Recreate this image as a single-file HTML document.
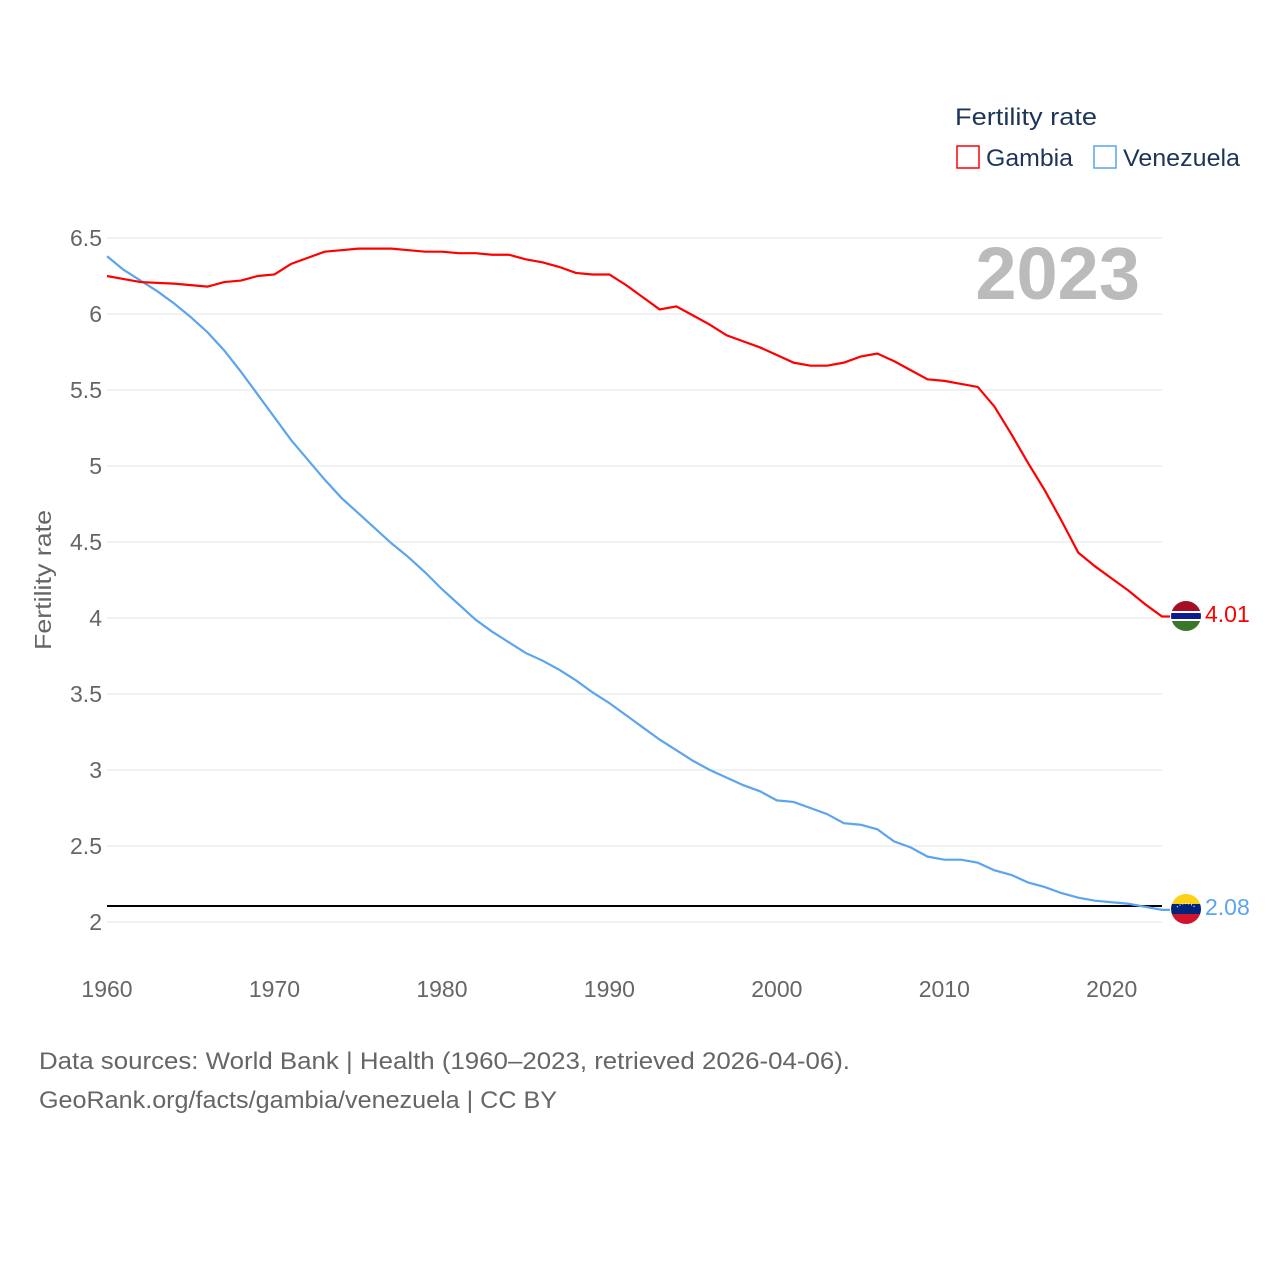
<!DOCTYPE html>
<html><head><meta charset="utf-8">
<style>
html,body{margin:0;padding:0;background:#fff;}
body{width:1280px;height:1280px;overflow:hidden;font-family:"Liberation Sans",sans-serif;}
text{font-family:"Liberation Sans",sans-serif;}
</style></head>
<body>
<svg id="chart" width="1280" height="1280" xmlns="http://www.w3.org/2000/svg">
<g id="grid"></g>
<g id="yticks"></g>
<g id="xticks"></g>
<text transform="translate(51,580) rotate(-90)" text-anchor="middle" font-size="23" fill="#666" textLength="140" lengthAdjust="spacingAndGlyphs">Fertility rate</text>
<text x="1140" y="299" text-anchor="end" font-size="74" font-weight="bold" fill="#bbb">2023</text>
<text x="955" y="125" font-size="24" fill="#1d3557" textLength="142" lengthAdjust="spacingAndGlyphs">Fertility rate</text>
<g>
<rect x="957" y="146" width="22" height="22" fill="none" stroke="#ff0000" stroke-width="1.5"/>
<text x="986" y="166" font-size="24" fill="#1d3557" textLength="87" lengthAdjust="spacingAndGlyphs">Gambia</text></g>
<g>
<rect x="1094" y="146" width="22" height="22" fill="none" stroke="#5ba4ee" stroke-width="1.5"/>
<text x="1123" y="166" font-size="24" fill="#1d3557" textLength="117" lengthAdjust="spacingAndGlyphs">Venezuela</text></g>
<line x1="107" x2="1162" y1="906" y2="906" stroke="#000" stroke-width="2"/>
<g id="series"></g>
<defs>
<clipPath id="c1"><circle cx="1186" cy="616" r="15"/></clipPath>
<clipPath id="c2"><circle cx="1186" cy="909" r="15"/></clipPath>
</defs>
<g clip-path="url(#c1)">
<rect x="1170" y="600" width="32" height="11" fill="#a50f26"/>
<rect x="1170" y="611" width="32" height="10" fill="#fff"/>
<rect x="1170" y="613" width="32" height="6" fill="#0c1c8c"/>
<rect x="1170" y="621" width="32" height="11" fill="#3a7728"/>
</g>
<g clip-path="url(#c2)">
<rect x="1170" y="893" width="32" height="11" fill="#fcd116"/>
<rect x="1170" y="904" width="32" height="10" fill="#00247d"/>
<rect x="1170" y="914" width="32" height="11" fill="#cf142b"/>
<path d="M1177 907 Q1186 900 1195 907" fill="none" stroke="#fff" stroke-width="1.2" stroke-dasharray="1 2"/>
</g>
<text x="1205" y="622" font-size="23" fill="#ff0000">4.01</text>
<text x="1205" y="915" font-size="23" fill="#5ba4ee">2.08</text>
<text x="39" y="1069" font-size="24" fill="#666" textLength="811" lengthAdjust="spacingAndGlyphs">Data sources: World Bank | Health (1960–2023, retrieved 2026-04-06).</text>
<text x="39" y="1108" font-size="24" fill="#666" textLength="518" lengthAdjust="spacingAndGlyphs">GeoRank.org/facts/gambia/venezuela | CC BY</text>
</svg>
<script>
const years = [];
for (let y = 1960; y <= 2023; y++) years.push(y);
const gambia = [6.25,6.23,6.21,6.205,6.20,6.19,6.18,6.21,6.22,6.25,6.26,6.33,6.37,6.41,6.42,6.43,6.43,6.43,6.42,6.41,6.41,6.40,6.40,6.39,6.39,6.36,6.34,6.31,6.27,6.26,6.26,6.19,6.11,6.03,6.05,5.99,5.93,5.86,5.82,5.78,5.73,5.68,5.66,5.66,5.68,5.72,5.74,5.69,5.63,5.57,5.56,5.54,5.52,5.39,5.21,5.02,4.84,4.64,4.43,4.34,4.26,4.18,4.09,4.01];
const venezuela = [6.38,6.29,6.22,6.15,6.07,5.98,5.88,5.76,5.62,5.47,5.32,5.17,5.04,4.91,4.79,4.69,4.59,4.49,4.40,4.30,4.19,4.09,3.99,3.91,3.84,3.77,3.72,3.66,3.59,3.51,3.44,3.36,3.28,3.20,3.13,3.06,3.00,2.95,2.90,2.86,2.80,2.79,2.75,2.71,2.65,2.64,2.61,2.53,2.49,2.43,2.41,2.41,2.39,2.34,2.31,2.26,2.23,2.19,2.16,2.14,2.13,2.12,2.10,2.08];
const yTicks = [2,2.5,3,3.5,4,4.5,5,5.5,6,6.5];
const xTicks = [1960,1970,1980,1990,2000,2010,2020];
const NS = "http://www.w3.org/2000/svg";
const xS = v => 107 + (v - 1960) * (1162 - 107) / 63;
const yS = v => 922 - (v - 2) * 152;
const grid = document.getElementById('grid'), yt = document.getElementById('yticks'), xt = document.getElementById('xticks');
yTicks.forEach(t => {
  const l = document.createElementNS(NS, 'line');
  
  
  l.setAttribute('x1', 107); l.setAttribute('x2', 1162);
  l.setAttribute('y1', yS(t)); l.setAttribute('y2', yS(t));
  l.setAttribute('stroke', '#e6e6e6'); l.setAttribute('stroke-width', '1');
  grid.appendChild(l);
  const tx = document.createElementNS(NS, 'text');
  
  
  tx.setAttribute('x', 102); tx.setAttribute('y', yS(t) + 8);
  tx.setAttribute('text-anchor', 'end'); tx.setAttribute('font-size', '23'); tx.setAttribute('fill', '#666');
  tx.textContent = String(t);
  yt.appendChild(tx);
});
xTicks.forEach(t => {
  const tx = document.createElementNS(NS, 'text');
  
  
  tx.setAttribute('x', xS(t)); tx.setAttribute('y', 997);
  tx.setAttribute('text-anchor', 'middle'); tx.setAttribute('font-size', '23'); tx.setAttribute('fill', '#666');
  tx.textContent = String(t);
  xt.appendChild(tx);
});
const series = document.getElementById('series');
function drawLine(vals, color, name) {
  const pts = vals.map((v, i) => xS(years[i]) + ',' + yS(v));
  pts.push((xS(years[years.length - 1]) + 8) + ',' + yS(vals[vals.length - 1]));
  const p = document.createElementNS(NS, 'polyline');
  
  
  p.setAttribute('points', pts.join(' '));
  p.setAttribute('fill', 'none'); p.setAttribute('stroke', color); p.setAttribute('stroke-width', '2.2');
  series.appendChild(p);
}
drawLine(venezuela, '#5ba4ee', 'venezuela-line');
drawLine(gambia, '#ff0000', 'gambia-line');
</script>
</body></html>
